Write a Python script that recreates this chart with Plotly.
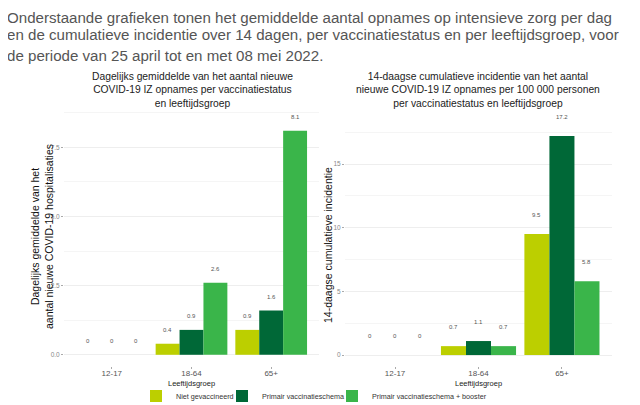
import plotly.graph_objects as go

# data #
age_groups = ["12-17", "18-64", "65+"]
statuses = ["Niet gevaccineerd", "Primair vaccinatieschema", "Primair vaccinatieschema + booster"]
colors = ["#bccf00", "#006837", "#3ab54a"]

# daily average ICU admissions, per status (rows) and age group (cols)
daily_avg = [
    [0, 0.4, 0.9],
    [0, 0.9, 1.6],
    [0, 2.6, 8.1],
]
# 14-day cumulative incidence per 100 000
cum_incidence = [
    [0, 0.7, 9.5],
    [0, 1.1, 17.2],
    [0, 0.7, 5.8],
]

header_lines = [
    "Onderstaande grafieken tonen het gemiddelde aantal opnames op intensieve zorg per dag",
    "en de cumulatieve incidentie over 14 dagen, per vaccinatiestatus en per leeftijdsgroep, voor",
    "de periode van 25 april tot en met 08 mei 2022.",
]

# page has an 8px body margin at top/left, figure fills the rest of the window
OFF = 8
W, H = 640 - OFF, 405 - OFF
FONT = "Liberation Sans, Arial, sans-serif"


def px_x(p):
    return (p - OFF) / W


def px_y(p):
    return 1 - (p - OFF) / H


fig = go.Figure()

legend_ids = ["legend", "legend2", "legend3"]
for k, name in enumerate(statuses):
    fig.add_trace(go.Bar(
        x=list(range(len(age_groups))), y=daily_avg[k], name=name,
        marker_color=colors[k], marker_line_width=0,
        xaxis="x", yaxis="y", legend=legend_ids[k], showlegend=True,
    ))
    fig.add_trace(go.Bar(
        x=list(range(len(age_groups))), y=cum_incidence[k], name=name,
        marker_color=colors[k], marker_line_width=0,
        xaxis="x2", yaxis="y2", showlegend=False,
    ))

# value labels above bars #
for k in range(len(statuses)):
    for i in range(len(age_groups)):
        fig.add_annotation(x=i + (k - 1) * 0.3, y=daily_avg[k][i], xref="x", yref="y",
                           text=str(daily_avg[k][i]), showarrow=False, yshift=14,
                           font=dict(size=6, color="#555"))
        fig.add_annotation(x=i + (k - 1) * 0.3, y=cum_incidence[k][i], xref="x2", yref="y2",
                           text=str(cum_incidence[k][i]), showarrow=False, yshift=19,
                           font=dict(size=6, color="#555"))

ydom = [px_y(366), px_y(108)]
ytick = dict(showline=False, zeroline=False, ticks="outside", ticklen=2, tickcolor="#aaa",
             automargin=False, tickfont=dict(size=6.5, color="#888", family=FONT))
xtick = dict(showline=False, zeroline=False, ticks="outside", ticklen=2, tickcolor="#aaa",
             automargin=False, ticklabelstandoff=-3,
             tickfont=dict(size=8, color="#555", family=FONT), showgrid=False,
             tickvals=list(range(len(age_groups))), ticktext=age_groups, range=[-0.6, 2.6])

leg_common = dict(orientation="h", yanchor="middle", y=px_y(396), xanchor="left",
                  font=dict(size=7.2, color="#333", family=FONT), itemwidth=30,
                  bgcolor="rgba(0,0,0,0)", borderwidth=0)

fig.update_layout(
    width=W, height=H, autosize=False,
    margin=dict(l=0, r=0, t=0, b=0, pad=0, autoexpand=False),
    paper_bgcolor="white", plot_bgcolor="white",
    font=dict(family=FONT, color="#222"),
    barmode="group", bargap=0.1, bargroupgap=0,
    xaxis=dict(domain=[px_x(64), px_x(319)], **xtick),
    yaxis=dict(domain=ydom, range=[-0.405, 8.92], tickvals=[0, 2.5, 5, 7.5],
               ticktext=["0.0", "2.5", "5.0", "7.5"],
               showgrid=True, gridcolor="#eeeeee", gridwidth=1,
               minor=dict(dtick=1.25, tick0=0, showgrid=True, gridcolor="#f5f5f5", ticks=""),
               **ytick),
    xaxis2=dict(domain=[px_x(345), px_x(612)], anchor="y2", **xtick),
    yaxis2=dict(domain=ydom, range=[-0.86, 19.4], tickvals=[0, 5, 10, 15],
                showgrid=True, gridcolor="#eeeeee", gridwidth=1, anchor="x2",
                minor=dict(dtick=2.5, tick0=0, showgrid=True, gridcolor="#f5f5f5", ticks=""),
                **ytick),
    legend=dict(x=px_x(136), **leg_common),
    legend2=dict(x=px_x(222), **leg_common),
    legend3=dict(x=px_x(332), **leg_common),
)

# header text, one annotation per line #
for line, cy in zip(header_lines, [17, 34, 55]):
    fig.add_annotation(
        xref="paper", yref="paper", x=px_x(6), y=px_y(cy), xanchor="left", yanchor="middle",
        align="left", showarrow=False, text=line, borderpad=0,
        font=dict(size=15.1, color="#555", family=FONT),
    )

# subplot titles #
fig.add_annotation(
    xref="paper", yref="paper", x=px_x(192), y=px_y(69), xanchor="center", yanchor="top",
    showarrow=False,
    text="Dagelijks gemiddelde van het aantal nieuwe<br>COVID-19 IZ opnames per vaccinatiestatus<br>en leeftijdsgroep",
    font=dict(size=10.3, color="#222"),
)
fig.add_annotation(
    xref="paper", yref="paper", x=px_x(478), y=px_y(69), xanchor="center", yanchor="top",
    showarrow=False,
    text="14-daagse cumulatieve incidentie van het aantal<br>nieuwe COVID-19 IZ opnames per 100 000 personen<br>per vaccinatiestatus en leeftijdsgroep",
    font=dict(size=10.3, color="#222"),
)

# axis titles #
fig.add_annotation(
    xref="paper", yref="paper", x=px_x(42), y=px_y(237), textangle=-90,
    xanchor="center", yanchor="middle", showarrow=False,
    text="Dagelijks gemiddelde van het<br>aantal nieuwe COVID-19 hospitalisaties",
    font=dict(size=10.5, color="#111"),
)
fig.add_annotation(
    xref="paper", yref="paper", x=px_x(328), y=px_y(245), textangle=-90,
    xanchor="center", yanchor="middle", showarrow=False, text="14-daagse cumulatieve incidentie",
    font=dict(size=10.5, color="#111"),
)
for cx in [191, 478]:
    fig.add_annotation(
        xref="paper", yref="paper", x=px_x(cx), y=px_y(383), xanchor="center", yanchor="middle",
        showarrow=False, text="Leeftijdsgroep", font=dict(size=7.5, color="#222"),
    )

fig.write_html("out.html")
